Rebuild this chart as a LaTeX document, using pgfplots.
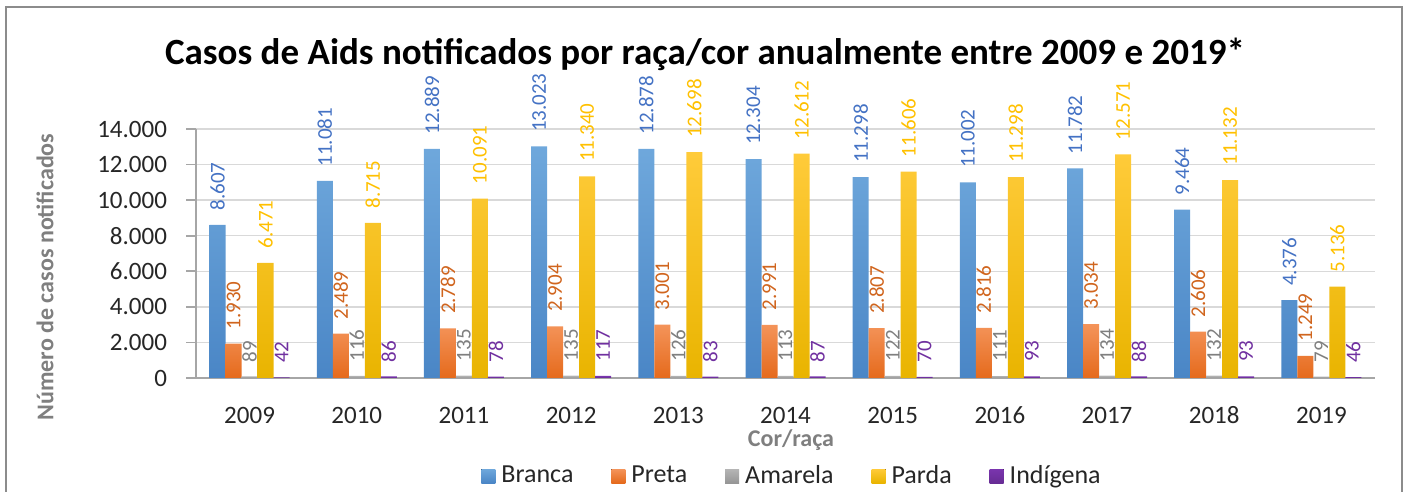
\documentclass[border=0pt]{standalone}
\usepackage{pgfplots}
\pgfplotsset{compat=1.18}
\usepackage{fontspec}
\setmainfont{Carlito}
\definecolor{bT}{HTML}{6FA8DC}\definecolor{bB}{HTML}{4A86C6}
\definecolor{pT}{HTML}{F4945A}\definecolor{pB}{HTML}{E56A1C}
\definecolor{aT}{HTML}{B5B5B5}\definecolor{aB}{HTML}{969696}
\definecolor{yT}{HTML}{FFCB3A}\definecolor{yB}{HTML}{E9B400}
\definecolor{iT}{HTML}{7A35AE}\definecolor{iB}{HTML}{672C94}
\definecolor{lB}{HTML}{4472C4}
\definecolor{lP}{HTML}{D0651E}
\definecolor{lA}{HTML}{7F7F7F}
\definecolor{lY}{HTML}{FFC000}
\definecolor{lI}{HTML}{7030A0}
\definecolor{gridC}{HTML}{D9D9D9}
\definecolor{axC}{HTML}{A6A6A6}
\definecolor{tickC}{HTML}{262626}
\definecolor{labC}{HTML}{7F7F7F}
\definecolor{frameC}{HTML}{8C8C8C}
\begin{document}
\begin{tikzpicture}
\useasboundingbox (-98pt,-57pt) rectangle (606pt,189pt);
\draw[draw=frameC, line width=1pt] (-94.75pt,-80pt) rectangle (603pt,185.25pt);
\begin{axis}[
  at={(0pt,0pt)}, anchor=south west, scale only axis,
  width=589.5pt, height=124.5pt,
  xmin=-0.5, xmax=10.5, ymin=0, ymax=14000,
  ybar=0pt, bar width=8pt,
  xtick={0,1,2,3,4,5,6,7,8,9,10},
  xticklabels={2009,2010,2011,2012,2013,2014,2015,2016,2017,2018,2019},
  ytick={0,2000,4000,6000,8000,10000,12000,14000},
  ymajorgrids, grid style={draw=gridC, line width=0.7pt},
  axis x line=bottom, axis y line=left,
  axis line style={-, draw=axC, line width=0.8pt},
  tick align=outside, major tick length=5pt,
  xtick style={draw=none}, ytick style={draw=axC, line width=0.8pt},
  tick label style={font=\fontsize{12.5}{14}\selectfont, text=tickC},
  /pgf/number format/1000 sep={.},
  /pgf/number format/assume math mode=true,
  scaled y ticks=false,
  yticklabel style={xshift=-6pt},
  xticklabel style={anchor=base, inner sep=0pt, yshift=-18pt},
  nodes near coords,
  every node near coord/.append style={rotate=90, anchor=west, inner xsep=7pt, inner ysep=0pt, font=\fontsize{10.5}{12}\selectfont},
  clip=false,
  legend style={at={(0.5064,-0.3936)}, anchor=center, draw=none, fill=none,
    legend columns=-1, font=\fontsize{13}{15}\selectfont, text=tickC,
    /tikz/every odd column/.append style={column sep=1pt},
    /tikz/every even column/.append style={column sep=17pt}},
  legend image code/.code={\fill[#1] (0pt,-3.5pt) rectangle (7pt,3.5pt);},
]
\addplot[draw=none, top color=bT, bottom color=bB, every node near coord/.append style={text=lB}] coordinates {
(0,8607) (1,11081) (2,12889) (3,13023) (4,12878) (5,12304) (6,11298) (7,11002) (8,11782) (9,9464) (10,4376)};
\addplot[draw=none, top color=pT, bottom color=pB, every node near coord/.append style={text=lP}] coordinates {
(0,1930) (1,2489) (2,2789) (3,2904) (4,3001) (5,2991) (6,2807) (7,2816) (8,3034) (9,2606) (10,1249)};
\addplot[draw=none, top color=aT, bottom color=aB, every node near coord/.append style={text=lA}] coordinates {
(0,89) (1,116) (2,135) (3,135) (4,126) (5,113) (6,122) (7,111) (8,134) (9,132) (10,79)};
\addplot[draw=none, top color=yT, bottom color=yB, every node near coord/.append style={text=lY}] coordinates {
(0,6471) (1,8715) (2,10091) (3,11340) (4,12698) (5,12612) (6,11606) (7,11298) (8,12571) (9,11132) (10,5136)};
\addplot[draw=none, top color=iT, bottom color=iB, every node near coord/.append style={text=lI}] coordinates {
(0,42) (1,86) (2,78) (3,117) (4,83) (5,87) (6,70) (7,93) (8,88) (9,93) (10,46)};
\legend{Branca,Preta,Amarela,Parda,Indígena}
\end{axis}
\node[font=\bfseries\fontsize{18.5}{22}\selectfont] at (254.5pt,162pt) {Casos de Aids notificados por raça/cor anualmente entre 2009 e 2019*};
\node[rotate=90, font=\bfseries\fontsize{12}{14}\selectfont, text=labC] at (-75.5pt,50.5pt) {Número de casos notificados};
\node[font=\bfseries\fontsize{12}{14}\selectfont, text=labC] at (297.5pt,-31pt) {Cor/raça};
\end{tikzpicture}
\end{document}
